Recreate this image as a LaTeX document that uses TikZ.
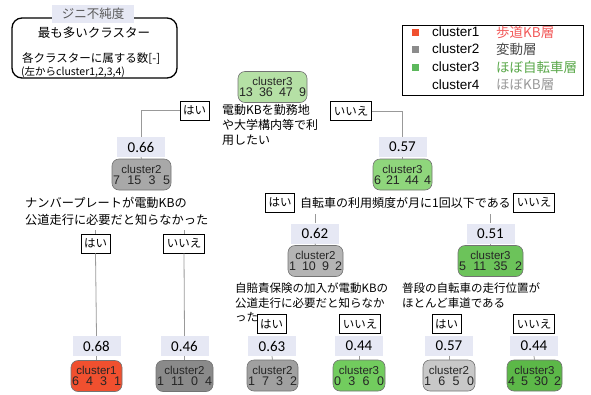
\documentclass[tikz,border=0pt]{standalone}
\usepackage{fontspec}
\setmainfont{Liberation Sans}
\newfontfamily\jp{Noto Sans CJK JP}
\newfontfamily\numf{Carlito}
\definecolor{ginibg}{HTML}{E6E8F4}
\definecolor{cred}{HTML}{F0502F}
\definecolor{cgray}{HTML}{8C8C8C}
\definecolor{cgreen}{HTML}{5CB85C}
\definecolor{tred}{HTML}{F25A5A}
\definecolor{tgreen}{HTML}{5AA84A}
\definecolor{tgray}{HTML}{999999}
\newcommand\bignum{\fontsize{12.5}{13}\selectfont}
\begin{document}
\begin{tikzpicture}[x=1pt,y=-1pt,
  cnode/.style={draw=black!55, rounded corners=7pt, line width=0.6pt, inner xsep=1pt, inner ysep=1pt,
    minimum height=31pt, text=black!85, font=\fontsize{11.5}{12.5}\selectfont, align=center},
  gini/.style={fill=ginibg, minimum width=48pt, minimum height=20pt, inner sep=0pt,
    font=\numf\fontsize{15}{16}\selectfont},
  yn/.style={draw=black, fill=white, line width=0.8pt, minimum height=19pt, inner xsep=3pt, inner ysep=0pt,
    font=\jp\fontsize{11.5}{12}\selectfont},
  qtext/.style={font=\jp\fontsize{12}{15}\selectfont, align=left, inner sep=0pt},
  conn/.style={draw=black!40, line width=0.8pt},
  legtext/.style={font=\fontsize{13.5}{15}\selectfont, inner sep=0pt, anchor=west},
  legjp/.style={font=\jp\fontsize{13.5}{15}\selectfont, inner sep=0pt, anchor=west},
  sq/.style={minimum size=7pt, inner sep=0pt}
]
\useasboundingbox (0,0) rectangle (591,394);

% ---- left legend ----
\draw[line width=1.3pt, rounded corners=10pt] (12,18) rectangle (177,78);
\node[fill=ginibg, minimum width=82pt, minimum height=18pt, inner sep=0pt, text=black!65,
  font=\jp\fontsize{12.5}{13}\selectfont] (gtitle) at (93,14) {ジニ不純度};
\node[font=\jp\fontsize{12.5}{13}\selectfont, inner sep=0pt] (lg1) at (94,33) {最も多いクラスター};
\node[font=\jp\fontsize{11.5}{13}\selectfont, inner sep=0pt, anchor=west] (lg2) at (22,59) {各クラスターに属する数[-]};
\node[font=\jp\fontsize{10.5}{12}\selectfont, inner sep=0pt, anchor=west] (lg3) at (21,72) {(左からcluster1,2,3,4)};

% ---- right legend ----
\draw[line width=1pt] (402,25) rectangle (583,95);
\node[sq, fill=cred] (s1) at (415,32) {};
\node[sq, fill=cgray] (s2) at (415,49) {};
\node[sq, fill=cgreen] (s3) at (415,67) {};
\node[legtext] (c1) at (432,32) {cluster1};
\node[legtext] (c2) at (432,49) {cluster2};
\node[legtext] (c3) at (432,67) {cluster3};
\node[legtext] (c4) at (432,85) {cluster4};
\node[legjp, text=tred] (j1) at (496,32) {歩道KB層};
\node[legjp, text=black!70] (j2) at (496,49) {変動層};
\node[legjp, text=tgreen] (j3) at (496,67) {ほぼ自転車層};
\node[legjp, text=tgray] (j4) at (496,85) {ほぼKB層};

% ---- level 0 ----
\node[cnode, fill={rgb,255:red,181;green,224;blue,165}, text width=67pt] (root) at (272.5,87)
  {cluster3\\[-1.5pt]\bignum 13\hfill 36\hfill 47\hfill 9};
\node[yn] (y1) at (194.5,110.5) {はい};
\node[yn] (n1) at (351,111) {いいえ};
\node[qtext, anchor=north west] (q1) at (222,104) {電動KBを勤務地\\や大学構内等で利\\用したい};

% ---- level 1 ----
\node[gini] (g066) at (141,147) {0.66};
\node[cnode, fill={rgb,255:red,168;green,168;blue,168}, text width=57pt] (k066) at (141.5,174.5)
  {cluster2\\[-1.5pt]\bignum 7\hfill 15\hfill 3\hfill 5};
\node[gini] (g057) at (402.5,147) {0.57};
\node[cnode, fill={rgb,255:red,143;green,214;blue,124}, text width=57pt] (k057) at (402.5,174.5)
  {cluster3\\[-1.5pt]\bignum 6\hfill 21\hfill 44\hfill 4};
\draw[conn] (y1.west) -- (141,110.5) -- (g066.north);
\draw[conn] (n1.east) -- (402.5,111) -- (g057.north);
\draw[conn] (g066.south) -- (k066.north);
\draw[conn] (g057.south) -- (k057.north);

% ---- level 2 left ----
\node[qtext, anchor=north west, font=\jp\fontsize{12.2}{17}\selectfont] (q2) at (25,197) {ナンバープレートが電動KBの\\公道走行に必要だと知らなかった};
\node[yn] (y2) at (95.5,243.5) {はい};
\node[yn] (n2) at (184,243.5) {いいえ};
\coordinate (t2a) at (95.5,230);
\coordinate (t2b) at (184,230);
\draw[conn] (t2a) -- (y2.north);
\draw[conn] (t2b) -- (n2.north);
\node[gini] (g068) at (96.5,346) {0.68};
\node[gini] (g046) at (184.5,346) {0.46};
\node[cnode, fill=cred, text width=49pt] (k068) at (96.5,376)
  {cluster1\\[-1.5pt]\bignum 6\hfill 4\hfill 3\hfill 1};
\node[cnode, fill={rgb,255:red,138;green,138;blue,138}, text width=55pt] (k046) at (184.5,376)
  {cluster2\\[-1.5pt]\bignum 1\hfill 11\hfill 0\hfill 4};
\draw[conn] (y2.south) -- (g068.north);
\draw[conn] (n2.south) -- (g046.north);
\draw[conn] (g068.south) -- (k068.north);
\draw[conn] (g046.south) -- (k046.north);

% ---- level 2 right ----
\node[yn] (y3) at (280,202.5) {はい};
\node[yn] (n3) at (534,202.5) {いいえ};
\node[qtext, anchor=west] (q3) at (300,202.5) {自転車の利用頻度が月に1回以下である};
\node[gini] (g062) at (315,233.5) {0.62};
\node[gini] (g051) at (490.5,233.5) {0.51};
\coordinate (t3a) at (315,214);
\coordinate (t3b) at (490.5,214);
\draw[conn] (t3a) -- (g062.north);
\draw[conn] (t3b) -- (g051.north);
\node[cnode, fill={rgb,255:red,180;green,180;blue,180}, text width=53pt] (k062) at (315.5,261)
  {cluster2\\[-1.5pt]\bignum 1\hfill 10\hfill 9\hfill 2};
\node[cnode, fill={rgb,255:red,108;green,195;blue,90}, text width=63pt] (k051) at (490.5,261)
  {cluster3\\[-1.5pt]\bignum 5\hfill 11\hfill 35\hfill 2};
\draw[conn] (g062.south) -- (k062.north);
\draw[conn] (g051.south) -- (k051.north);

% ---- level 3 ----
\node[qtext, anchor=north west, font=\jp\fontsize{11.5}{14.5}\selectfont] (q4) at (235,283) {自賠責保険の加入が電動KBの\\公道走行に必要だと知らなか\\った};
\node[qtext, anchor=north west, font=\jp\fontsize{11.5}{14.5}\selectfont] (q5) at (402,283) {普段の自転車の走行位置が\\ほとんど車道である};
\node[yn] (y4) at (271.5,324) {はい};
\node[yn] (n4) at (360,324) {いいえ};
\node[yn] (y5) at (446.5,324) {はい};
\node[yn] (n5) at (534,324) {いいえ};
\node[gini] (g063) at (272,346) {0.63};
\node[gini] (g044a) at (359,346) {0.44};
\node[gini] (g057b) at (449,346) {0.57};
\node[gini] (g044b) at (534,346) {0.44};
\node[cnode, fill={rgb,255:red,160;green,160;blue,160}, text width=49pt] (k063) at (272.5,375.5)
  {cluster2\\[-1.5pt]\bignum 1\hfill 7\hfill 3\hfill 2};
\node[cnode, fill={rgb,255:red,114;green,204;blue,94}, text width=50pt] (k044a) at (359,375.5)
  {cluster3\\[-1.5pt]\bignum 0\hfill 3\hfill 6\hfill 0};
\node[cnode, fill={rgb,255:red,200;green,200;blue,200}, text width=50pt] (k057b) at (449,375.5)
  {cluster2\\[-1.5pt]\bignum 1\hfill 6\hfill 5\hfill 0};
\node[cnode, fill={rgb,255:red,92;green,184;blue,72}, text width=53pt] (k044b) at (534.5,375.5)
  {cluster3\\[-1.5pt]\bignum 4\hfill 5\hfill 30\hfill 2};
\foreach \a/\b in {g063/k063,g044a/k044a,g057b/k057b,g044b/k044b}
  \draw[conn] (\a.south) -- (\b.north);
\end{tikzpicture}
\end{document}
